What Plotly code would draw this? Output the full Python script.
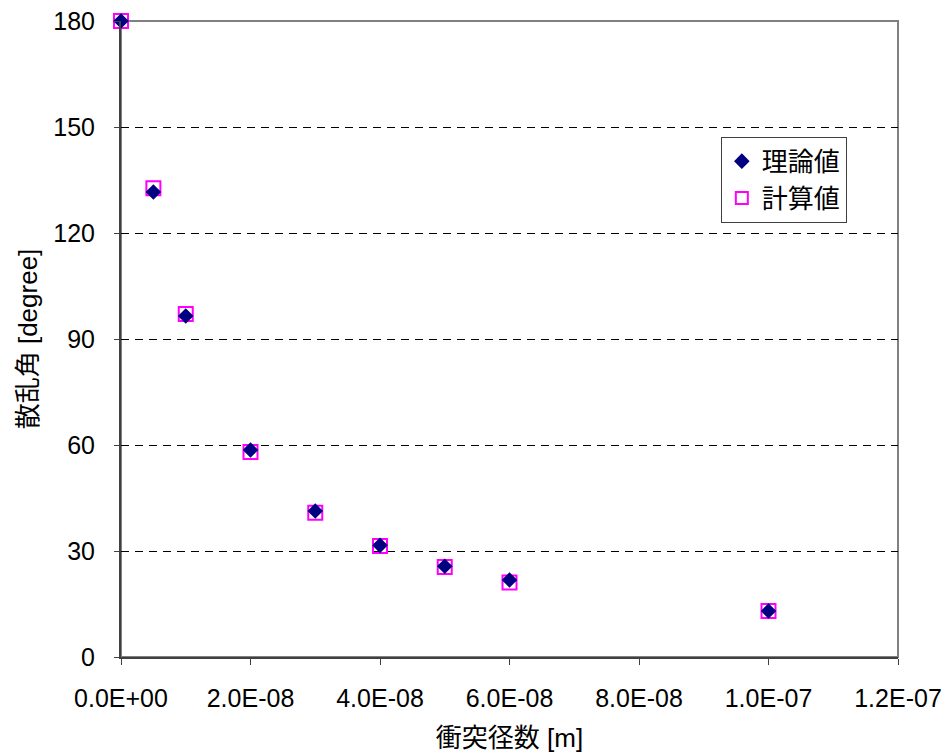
import plotly.graph_objects as go

# Impact parameter [m] and scattering angle [degree]
impact_param = [0.0, 5e-9, 1e-8, 2e-8, 3e-8, 4e-8, 5e-8, 6e-8, 1e-7]
theory_angle = [180.0, 131.6, 96.5, 58.6, 41.3, 31.6, 25.7, 21.8, 13.0]
computed_angle = [180.0, 132.7, 97.1, 58.0, 40.8, 31.4, 25.5, 21.1, 13.0]

x_tickvals = [0.0, 2e-8, 4e-8, 6e-8, 8e-8, 1e-7, 1.2e-7]
x_ticktext = [f"{v:.1E}" for v in x_tickvals]
y_tickvals = [0, 30, 60, 90, 120, 150, 180]

font_family = "Liberation Sans, Arial, Noto Sans CJK JP, sans-serif"

fig = go.Figure()

fig.add_trace(go.Scatter(
    x=impact_param, y=computed_angle, mode="markers", name="計算値",
    legendrank=2, cliponaxis=False,
    marker=dict(symbol="square-open", size=14, color="#FF00FF",
                line=dict(width=2, color="#FF00FF")),
))
fig.add_trace(go.Scatter(
    x=impact_param, y=theory_angle, mode="markers", name="理論値",
    legendrank=1, cliponaxis=False,
    marker=dict(symbol="diamond", size=12, color="#000080"),
))

fig.update_layout(
    width=948, height=753,
    margin=dict(l=121, r=50, t=21, b=96),
    paper_bgcolor="white", plot_bgcolor="white",
    showlegend=True,
    legend=dict(
        x=0.772, y=0.818, xanchor="left", yanchor="top",
        bgcolor="white", bordercolor="#404040", borderwidth=1,
        font=dict(family=font_family, size=26, color="black"),
        itemsizing="constant", tracegroupgap=0,
    ),
    xaxis=dict(
        range=[0, 1.2e-7], tickvals=x_tickvals, ticktext=x_ticktext,
        automargin=False,
        showgrid=False, zeroline=False,
        showline=True, linecolor="#404040", linewidth=2,
        ticks="outside", ticklen=6, tickcolor="#404040", tickwidth=1,
        ticklabelstandoff=12,
        tickfont=dict(family=font_family, size=25, color="black"),
        title=dict(text="衝突径数 [m]", standoff=18,
                   font=dict(family=font_family, size=26, color="black")),
    ),
    yaxis=dict(
        range=[0, 180], tickvals=y_tickvals,
        automargin=False,
        showgrid=True, gridcolor="black", gridwidth=1, griddash="8px,6px",
        zeroline=False,
        showline=True, linecolor="#404040", linewidth=2,
        ticks="outside", ticklen=5, tickcolor="#404040", tickwidth=1,
        ticklabelstandoff=14,
        tickfont=dict(family=font_family, size=25, color="black"),
        title=dict(text="散乱角 [degree]", standoff=8,
                   font=dict(family=font_family, size=26, color="black")),
    ),
    shapes=[dict(type="rect", xref="paper", yref="paper", x0=0, y0=0, x1=1, y1=1,
                 line=dict(color="#808080", width=2), layer="below")],
)

fig.write_html("out.html")
